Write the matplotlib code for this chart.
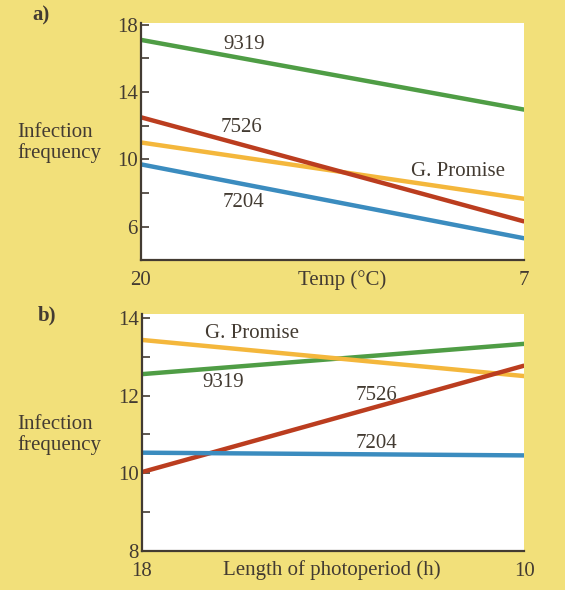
import matplotlib.pyplot as plt
from matplotlib.ticker import FixedLocator

# panel a: infection frequency vs temperature (20 -> 7 C)
temp = [20, 7]
temp_9319 = [17.1, 12.95]
temp_7526 = [12.5, 6.3]
temp_gpromise = [11.0, 7.65]
temp_7204 = [9.7, 5.3]

# panel b: infection frequency vs photoperiod (18 -> 10 h)
photo = [18, 10]
photo_9319 = [12.55, 13.33]
photo_7526 = [10.03, 12.77]
photo_gpromise = [13.43, 12.5]
photo_7204 = [10.53, 10.46]

BG = '#f2e07a'
INK = '#433b32'
GREEN = '#4f9d45'
RED = '#bb3d1f'
YELLOW = '#f4b73c'
BLUE = '#3b8cbf'

plt.rcParams['font.family'] = ['Liberation Serif', 'DejaVu Serif']
FS = 15

fig = plt.figure(figsize=(5.65, 5.9), dpi=100, facecolor=BG)

ax_a = fig.add_axes([0.249, 0.559, 0.679, 0.402])
ax_b = fig.add_axes([0.251, 0.066, 0.677, 0.402])


def style_axes(ax, xvals, ylim, major, minor):
    ax.set_facecolor('white')
    for side in ('top', 'right'):
        ax.spines[side].set_visible(False)
    for side in ('left', 'bottom'):
        ax.spines[side].set_color(INK)
        ax.spines[side].set_linewidth(1.6)
    ax.set_xlim(xvals[0], xvals[1])
    ax.set_ylim(*ylim)
    ax.set_xticks(xvals)
    ax.set_xticklabels([str(v) for v in xvals])
    ax.yaxis.set_major_locator(FixedLocator(major))
    ax.yaxis.set_minor_locator(FixedLocator(minor))
    ax.tick_params(axis='y', which='both', direction='in', length=6, width=1.2,
                   color=INK, labelsize=FS, labelcolor=INK, pad=2)
    ax.tick_params(axis='x', length=0, labelsize=FS, labelcolor=INK, pad=8)


style_axes(ax_a, temp, (4.0, 18.1), [6, 10, 14, 18], [8, 12, 16])
style_axes(ax_b, photo, (8.0, 14.1), [8, 10, 12, 14], [9, 11, 13])

lw = 3.2
ax_a.plot(temp, temp_9319, color=GREEN, lw=lw, solid_capstyle='butt')
ax_a.plot(temp, temp_gpromise, color=YELLOW, lw=lw, solid_capstyle='butt')
ax_a.plot(temp, temp_7526, color=RED, lw=lw, solid_capstyle='butt')
ax_a.plot(temp, temp_7204, color=BLUE, lw=lw, solid_capstyle='butt')

ax_b.plot(photo, photo_9319, color=GREEN, lw=lw, solid_capstyle='butt')
ax_b.plot(photo, photo_gpromise, color=YELLOW, lw=lw, solid_capstyle='butt')
ax_b.plot(photo, photo_7526, color=RED, lw=lw, solid_capstyle='butt')
ax_b.plot(photo, photo_7204, color=BLUE, lw=lw, solid_capstyle='butt')

# line names
ax_a.text(16.5, 16.8, '9319', fontsize=FS, color=INK, ha='center', va='center')
ax_a.text(16.6, 11.9, '7526', fontsize=FS, color=INK, ha='center', va='center')
ax_a.text(9.25, 9.25, 'G. Promise', fontsize=FS, color=INK, ha='center', va='center')
ax_a.text(16.5, 7.4, '7204', fontsize=FS, color=INK, ha='center', va='center')

ax_b.text(15.7, 13.6, 'G. Promise', fontsize=FS, color=INK, ha='center', va='center')
ax_b.text(16.3, 12.33, '9319', fontsize=FS, color=INK, ha='center', va='center')
ax_b.text(13.1, 12.0, '7526', fontsize=FS, color=INK, ha='center', va='center')
ax_b.text(13.1, 10.77, '7204', fontsize=FS, color=INK, ha='center', va='center')

# axis titles sit on the same row as the end tick labels
ax_a.text(0.525, -0.085, 'Temp (°C)', transform=ax_a.transAxes, fontsize=FS,
          color=INK, ha='center', va='center')
ax_b.text(0.497, -0.08, 'Length of photoperiod (h)', transform=ax_b.transAxes,
          fontsize=FS, color=INK, ha='center', va='center')

for y in (1 - 143 / 590, 1 - 435 / 590):
    fig.text(17 / 565, y, 'Infection\nfrequency', fontsize=FS, color=INK,
             ha='left', va='center', linespacing=1.05)

fig.text(41 / 565, 1 - 15 / 590, 'a)', fontsize=FS, fontweight='bold',
         color=INK, ha='center', va='center')
fig.text(47 / 565, 1 - 315 / 590, 'b)', fontsize=FS, fontweight='bold',
         color=INK, ha='center', va='center')

fig.savefig('out.png', dpi=100, facecolor=BG)
